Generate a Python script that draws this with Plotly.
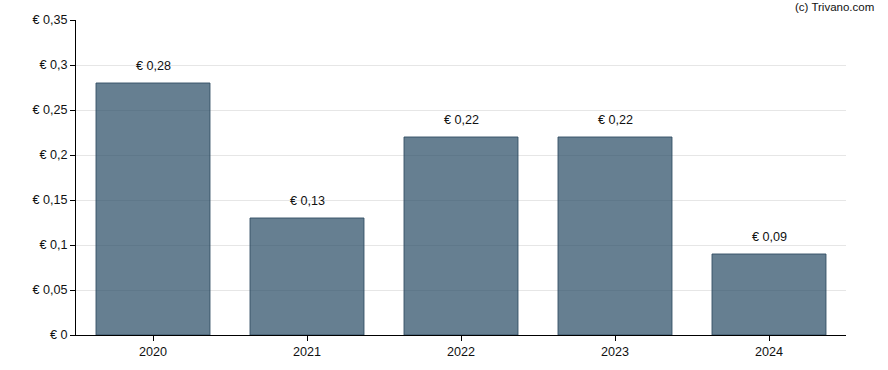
import plotly.graph_objects as go

years = ["2020", "2021", "2022", "2023", "2024"]
dividends = [0.28, 0.13, 0.22, 0.22, 0.09]
bar_labels = ["€ 0,28", "€ 0,13", "€ 0,22", "€ 0,22", "€ 0,09"]
y_tickvals = [0, 0.05, 0.1, 0.15, 0.2, 0.25, 0.3, 0.35]
y_ticktext = ["€ 0", "€ 0,05", "€ 0,1", "€ 0,15", "€ 0,2", "€ 0,25", "€ 0,3", "€ 0,35"]

font_family = "Liberation Sans, Arial, sans-serif"
fsize = 12.6

fig = go.Figure()
fig.add_trace(go.Bar(
    x=years, y=dividends,
    marker=dict(color="rgba(40,75,100,0.71)", line=dict(color="rgba(50,78,100,0.9)", width=1)),
    hoverinfo="x+y",
))

for i, (v, lab) in enumerate(zip(dividends, bar_labels)):
    fig.add_annotation(x=i, y=v, text=lab, showarrow=False, yanchor="bottom",
                       yshift=8, font=dict(size=fsize, color="#111", family=font_family))

fig.add_annotation(xref="paper", yref="paper", x=1.039, y=1.0, yshift=13, text="(c) Trivano.com",
                   showarrow=False, xanchor="right", yanchor="middle",
                   font=dict(size=11.5, color="#111", family=font_family))

fig.update_layout(
    width=888, height=370,
    margin=dict(l=76, r=42, t=20, b=35),
    paper_bgcolor="white", plot_bgcolor="white",
    bargap=0.26,
    showlegend=False,
    font=dict(family=font_family, size=fsize, color="#111"),
    xaxis=dict(type="category", range=[-0.5, len(years) - 0.5], showline=True, linecolor="black",
               linewidth=1, ticks="outside", ticklen=5,
               tickcolor="black", showgrid=False, tickfont=dict(size=fsize), automargin=False),
    yaxis=dict(range=[0, 0.35], tickvals=y_tickvals, ticktext=y_ticktext,
               showline=True, linecolor="black", linewidth=1, ticks="outside", ticklen=5,
               tickcolor="black", showgrid=True, gridcolor="#e6e6e6", gridwidth=1,
               zeroline=False, tickfont=dict(size=fsize), automargin=False),
)

fig.write_html("out.html", config={"displayModeBar": False},
               post_script="document.body.style.margin='0';")
